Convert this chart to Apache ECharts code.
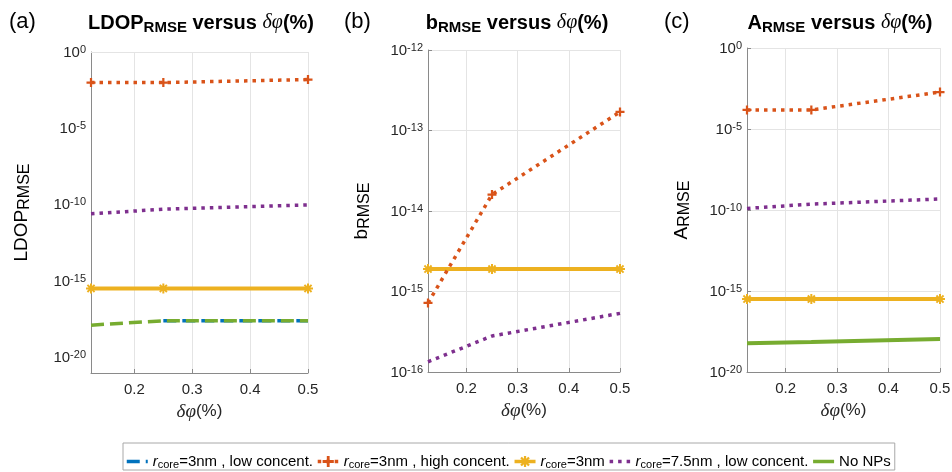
<!DOCTYPE html>
<html>
<head>
<meta charset="utf-8">
<script src="https://cdn.jsdelivr.net/npm/echarts@6/dist/echarts.min.js"></script>
<style>
  html, body { margin: 0; padding: 0; background: #fff; }
  #chart { width: 952px; height: 472px; }
</style>
</head>
<body>
<div id="chart"></div>
<script>
// Volume-fraction perturbation (%) sampled for every curve
const deltaPhi = [0.125, 0.25, 0.5];
const xTickLabels = [0.2, 0.3, 0.4, 0.5];

// (a) LDOP RMSE
const ldopLow3 = [null, 2.6e-18, 2.6e-18];
const ldopHigh3 = [1.0e-2, 1.0e-2, 1.58e-2];
const ldopRef3 = [3.4e-16, 3.4e-16, 3.4e-16];
const ldopLow75 = [2.6e-11, 5.2e-11, 1.0e-10];
const ldopNone = [1.35e-18, 2.6e-18, 2.6e-18];
const ldopTicks = [1e-20, 1e-15, 1e-10, 1e-5, 1];

// (b) b RMSE
const bHigh3 = [7.2e-16, 1.6e-14, 1.7e-13];
const bRef3 = [1.9e-15, 1.9e-15, 1.9e-15];
const bLow75 = [1.34e-16, 2.8e-16, 5.35e-16];

// (c) A RMSE
const aHigh3 = [1.5e-4, 1.5e-4, 1.9e-3];
const aRef3 = [3.2e-16, 3.2e-16, 3.2e-16];
const aLow75 = [1.25e-10, 2.3e-10, 4.8e-10];
const aNone = [5.9e-19, 7.0e-19, 1.1e-18];

const FONT = 'Liberation Sans';
const SERIF = 'Liberation Serif';
const TXT = '#262626';
const AXIS = '#8a8a8a';
const GRID = '#e4e4e4';

const PLUS = 'path://M3,0H5V3H8V5H5V8H3V5H0V3H3Z';
const STAR = 'path://M3.2,0H4.8V2.1L6.3,0.6L7.4,1.7L5.9,3.2H8V4.8H5.9L7.4,6.3L6.3,7.4L4.8,5.9V8H3.2V5.9L1.7,7.4L0.6,6.3L2.1,4.8H0V3.2H2.1L0.6,1.7L1.7,0.6L3.2,2.1Z';

const styles = {
  low3:  { color: '#0072BD', width: 3.5, dash: [13, 6] },
  high3: { color: '#D95319', width: 3.5, dash: [3.5, 5], symbol: PLUS, size: 9 },
  ref3:  { color: '#EDB120', width: 4, dash: 'solid', symbol: STAR, size: 10 },
  low75: { color: '#7E2F8E', width: 3.5, dash: [3.5, 5] },
  none:  { color: '#77AC30', width: 4, dash: 'solid' }
};

const legendNames = {
  low3:  '{r|r}{c|core}{t|=3nm , low concent.}',
  high3: '{r|r}{c|core}{t|=3nm , high concent.}',
  ref3:  '{r|r}{c|core}{t|=3nm}',
  low75: '{r|r}{c|core}{t|=7.5nm , low concent.}',
  none:  '{t|No NPs}'
};

function lineSeries(key, values, gi, extra) {
  const st = styles[key];
  const pts = [];
  deltaPhi.forEach((x, i) => { if (values[i] != null) pts.push([x, values[i]]); });
  return Object.assign({
    type: 'line', name: key, xAxisIndex: gi, yAxisIndex: gi, data: pts,
    symbol: st.symbol || 'none', symbolSize: st.size || 0, showSymbol: !!st.symbol,
    lineStyle: { color: st.color, width: st.width, type: st.dash, cap: 'butt' },
    itemStyle: { color: st.color },
    animation: false, z: 3
  }, extra || {});
}

const supRich = {
  b: { fontSize: 15, fontFamily: FONT, color: TXT, lineHeight: 16, padding: [4, 0, 0, 0], verticalAlign: 'bottom' },
  s: { fontSize: 11, fontFamily: FONT, color: TXT, lineHeight: 11, verticalAlign: 'top' }
};
function powLabel(v) {
  const e = Math.round(Math.log10(v));
  return '{b|10}{s|' + e + '}';
}

const subRich = (size, subSize, weight) => ({
  b: { fontSize: size, fontFamily: FONT, fontWeight: weight, color: '#000', lineHeight: size + 2, padding: [0, 0, 5, 0], verticalAlign: 'top' },
  s: { fontSize: subSize, fontFamily: FONT, fontWeight: weight, color: '#000', lineHeight: subSize, verticalAlign: 'bottom' },
  m: { fontSize: size, fontFamily: SERIF, fontStyle: 'italic', fontWeight: 'normal', color: '#000', lineHeight: size + 2, padding: [0, 0, 5, 0], verticalAlign: 'top' }
});

const grids = [
  { left: 91, top: 52, width: 217, height: 321 },
  { left: 428, top: 50, width: 192, height: 322 },
  { left: 747, top: 48, width: 193, height: 324 }
].map(g => Object.assign({ containLabel: false, outerBoundsMode: 'none' }, g));

const xAxes = grids.map((g, i) => ({
  type: 'value', gridIndex: i, min: 0.125, max: 0.5, splitNumber: 4,
  name: '{m|δφ}{t|(%)}', nameLocation: 'middle', nameGap: 29, nameMoveOverlap: false,
  nameTextStyle: { rich: {
    m: { fontSize: 19, fontFamily: SERIF, fontStyle: 'italic', color: TXT },
    t: { fontSize: 17, fontFamily: FONT, color: TXT }
  } },
  axisLine: { show: true, onZero: false, lineStyle: { color: AXIS, width: 1 } },
  axisTick: { show: true, inside: true, length: 4, lineStyle: { color: AXIS } },
  axisLabel: {
    fontSize: 15, fontFamily: FONT, color: TXT, margin: 9,
    formatter: v => xTickLabels.some(t => Math.abs(t - v) < 1e-9) ? v.toFixed(1) : ''
  },
  splitLine: { show: true, lineStyle: { color: GRID, width: 1 } }
}));

const yCommon = {
  type: 'log', logBase: 10, nameLocation: 'middle', nameRotate: 90, nameMoveOverlap: false,
  axisLine: { show: true, lineStyle: { color: AXIS, width: 1 } },
  axisTick: { show: true, inside: true, length: 4, lineStyle: { color: AXIS } },
  splitLine: { show: true, lineStyle: { color: GRID, width: 1 } }
};

const yNameRich = subRich(19, 16, 'normal');

const yAxes = [
  Object.assign({}, yCommon, {
    gridIndex: 0, min: 1e-21, max: 1, interval: 1,
    name: '{b|LDOP}{s|RMSE}', nameGap: 58,
    nameTextStyle: { rich: yNameRich },
    axisTick: { show: false },
    splitLine: { show: false },
    axisLabel: { margin: 5, rich: supRich,
      formatter: v => { const e = Math.round(Math.log10(v)); return e % 5 === 0 ? powLabel(v) : ''; } }
  }),
  Object.assign({}, yCommon, {
    gridIndex: 1, min: 1e-16, max: 1e-12, interval: 1,
    name: '{b|b}{s|RMSE}', nameGap: 55,
    nameTextStyle: { rich: yNameRich },
    axisLabel: { margin: 5, rich: supRich, formatter: powLabel }
  }),
  Object.assign({}, yCommon, {
    gridIndex: 2, min: 1e-20, max: 1, interval: 5,
    name: '{b|A}{s|RMSE}', nameGap: 54,
    nameTextStyle: { rich: yNameRich },
    axisLabel: { margin: 5, rich: supRich, formatter: powLabel }
  })
];

// Minor decade gridlines for panel (b)
const bMinor = [];
for (let k = -16; k < -12; k++) {
  for (let m = 2; m <= 9; m++) bMinor.push({ yAxis: m * Math.pow(10, k) });
}

function gridLines(gi, values, type) {
  return {
    type: 'line', name: 'grid' + gi, xAxisIndex: gi, yAxisIndex: gi, data: [],
    z: 1, animation: false, silent: true,
    markLine: {
      silent: true, symbol: ['none', 'none'], animation: false,
      label: { show: false },
      lineStyle: { color: GRID, width: 1, type: type },
      emphasis: { disabled: true },
      data: values
    }
  };
}

const series = [
  gridLines(0, ldopTicks.map(v => ({ yAxis: v })), 'solid'),
  gridLines(1, bMinor, [1, 1]),
  lineSeries('low3', ldopLow3, 0),
  lineSeries('none', ldopNone, 0, { lineStyle: { color: styles.none.color, width: 3.5, type: [13, 6], cap: 'butt' } }),
  lineSeries('low75', ldopLow75, 0),
  lineSeries('ref3', ldopRef3, 0),
  lineSeries('high3', ldopHigh3, 0),
  lineSeries('low75', bLow75, 1),
  lineSeries('ref3', bRef3, 1),
  lineSeries('high3', bHigh3, 1),
  lineSeries('none', aNone, 2),
  lineSeries('low75', aLow75, 2),
  lineSeries('ref3', aRef3, 2),
  lineSeries('high3', aHigh3, 2)
];

const titleRich = subRich(20, 15, 'bold');
const letterStyle = { fontSize: 22, fontWeight: 'normal', fontFamily: FONT, color: '#000' };
const hiddenDot = { color: 'rgba(0,0,0,0)', borderColor: 'rgba(0,0,0,0)', borderWidth: 0 };

const option = {
  backgroundColor: '#fff',
  animation: false,
  title: [
    { text: '(a)', left: 9, top: 11, padding: 0, textStyle: letterStyle },
    { text: '{b|LDOP}{s|RMSE}{b| versus }{m|δφ}{b|(%)}', left: 201, top: 13, padding: 0, textAlign: 'center', textStyle: { rich: titleRich } },
    { text: '(b)', left: 344, top: 11, padding: 0, textStyle: letterStyle },
    { text: '{b|b}{s|RMSE}{b| versus }{m|δφ}{b|(%)}', left: 517, top: 13, padding: 0, textAlign: 'center', textStyle: { rich: titleRich } },
    { text: '(c)', left: 664, top: 11, padding: 0, textStyle: letterStyle },
    { text: '{b|A}{s|RMSE}{b| versus }{m|δφ}{b|(%)}', left: 840, top: 13, padding: 0, textAlign: 'center', textStyle: { rich: titleRich } }
  ],
  grid: grids,
  xAxis: xAxes,
  yAxis: yAxes,
  legend: {
    left: 123, top: 443, orient: 'horizontal',
    padding: [0, 4, 0, 2], itemGap: 3, itemWidth: 21, itemHeight: 14,
    borderColor: '#a8a8a8', borderWidth: 1, backgroundColor: '#fff',
    selectedMode: false,
    lineStyle: { width: 3.5 },
    data: [
      { name: 'low3', itemStyle: hiddenDot },
      { name: 'high3' },
      { name: 'ref3' },
      { name: 'low75', itemStyle: hiddenDot },
      { name: 'none', itemStyle: hiddenDot, lineStyle: { type: 'solid' } }
    ],
    formatter: name => legendNames[name],
    textStyle: {
      rich: {
        r: { fontSize: 15, fontFamily: FONT, fontStyle: 'italic', color: '#000', lineHeight: 17, verticalAlign: 'middle' },
        t: { fontSize: 15, fontFamily: FONT, color: '#000', lineHeight: 17, verticalAlign: 'middle' },
        c: { fontSize: 11, fontFamily: FONT, color: '#000', lineHeight: 11, padding: [16, 0, 0, 0], verticalAlign: 'bottom' }
      }
    }
  },
  series: series
};

const chart = echarts.init(document.getElementById('chart'), null, { renderer: 'canvas' });
chart.setOption(option);
</script>
</body>
</html>
